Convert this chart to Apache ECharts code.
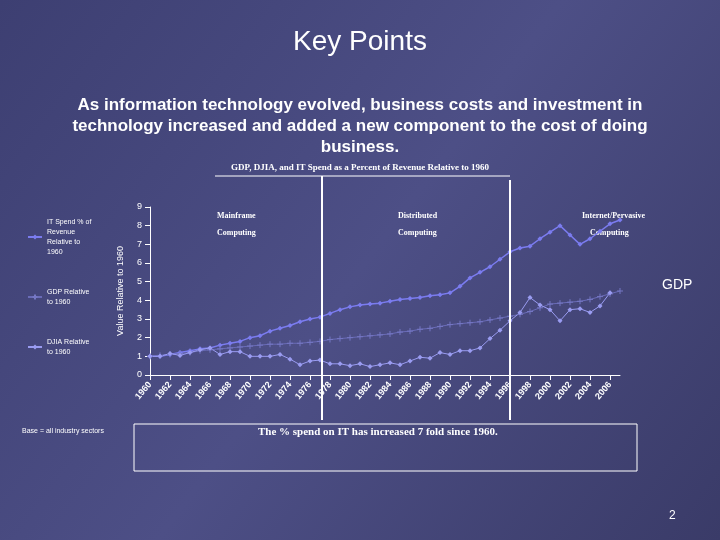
<!DOCTYPE html><html><head><meta charset="utf-8"><script src="https://cdn.jsdelivr.net/npm/echarts@6/dist/echarts.min.js"></script>
<style>body{margin:0}#c{width:720px;height:540px}</style></head><body><div id="c"></div><script>
const years=[];for(let y=1960;y<=2007;y++)years.push(y);
const itSpend=[1.0,1.0,1.1,1.2,1.3,1.4,1.45,1.6,1.7,1.8,2.0,2.1,2.35,2.5,2.65,2.85,3.0,3.1,3.3,3.5,3.65,3.75,3.8,3.85,3.95,4.05,4.1,4.15,4.25,4.3,4.4,4.75,5.2,5.5,5.8,6.2,6.6,6.8,6.9,7.3,7.65,8.0,7.5,7.0,7.3,7.7,8.1,8.3];
const gdp=[1.0,1.05,1.1,1.15,1.2,1.3,1.35,1.4,1.45,1.5,1.55,1.6,1.65,1.65,1.7,1.7,1.75,1.8,1.9,1.95,2.0,2.05,2.1,2.15,2.2,2.3,2.35,2.45,2.5,2.6,2.7,2.75,2.8,2.85,2.95,3.05,3.15,3.25,3.4,3.6,3.8,3.85,3.9,3.95,4.05,4.2,4.35,4.5];
const djia=[1.0,1.0,1.15,1.05,1.2,1.35,1.45,1.1,1.25,1.25,1.0,1.0,1.0,1.1,0.85,0.55,0.75,0.8,0.6,0.6,0.5,0.6,0.45,0.55,0.65,0.55,0.75,0.95,0.9,1.2,1.1,1.3,1.3,1.45,1.95,2.4,2.9,3.35,4.15,3.75,3.5,2.9,3.5,3.55,3.35,3.7,4.4];
const pair=a=>a.map((v,i)=>[years[i],v]);
const c=echarts.init(document.getElementById('c'));
const tx={fill:'#fff',fontFamily:'Liberation Serif',fontSize:8,fontWeight:'bold',lineHeight:17};
c.setOption({
graphic:[
{type:'rect',shape:{x:0,y:0,width:720,height:540},z:-10,style:{fill:new echarts.graphic.LinearGradient(0,0,1,1,[{offset:0,color:'#3d3f72'},{offset:0.5,color:'#4d4f86'},{offset:1,color:'#3a3b68'}])}},
{type:'text',left:'center',top:28,style:{text:'Key Points',fill:'#fff',font:'28px Liberation Sans'}},
{type:'text',x:360,y:95,style:{text:'As information technology evolved, business costs and investment in\ntechnology increased and added a new component to the cost of doing\nbusiness.',fill:'#fff',font:'bold 17px Liberation Sans',align:'center',lineHeight:21}},
{type:'text',left:'center',top:163,style:{text:'GDP, DJIA, and IT Spend as a Percent of Revenue Relative to 1960',fill:'#fff',font:'bold 9px Liberation Serif'}},
{type:'line',shape:{x1:215,y1:176,x2:510,y2:176},style:{stroke:'#fff',lineWidth:1}},
{type:'text',left:217,top:207,style:Object.assign({text:'Mainframe\nComputing'},tx)},
{type:'text',left:398,top:207,style:Object.assign({text:'Distributed\nComputing'},tx)},
{type:'text',left:582,top:207,style:Object.assign({text:'Internet/Pervasive\n    Computing'},tx)},
{type:'text',left:662,top:278,style:{text:'GDP',fill:'#fff',font:'14px Liberation Sans'}},
{type:'text',left:22,top:428,style:{text:'Base = all industry sectors',fill:'#fff',font:'7px Liberation Sans'}},
{type:'rect',shape:{x:134,y:424,width:503,height:47},style:{fill:'none',stroke:'#fff',lineWidth:1}},
{type:'text',left:258,top:427,style:{text:'The % spend on IT has increased 7 fold since 1960.',fill:'#fff',font:'bold 11px Liberation Serif'}},
{type:'text',left:669,top:510,style:{text:'2',fill:'#fff',font:'12px Liberation Sans'}}
],
legend:{orient:'vertical',left:22,top:212,itemWidth:14,itemHeight:6,itemGap:30,textStyle:{color:'#fff',fontSize:7,lineHeight:10,fontFamily:'Liberation Sans'},
data:[{name:'IT Spend % of\nRevenue\nRelative to\n1960'},{name:'GDP Relative\nto 1960'},{name:'DJIA Relative\nto 1960'}]},
grid:{left:150,right:100,top:207,bottom:165},
xAxis:{type:'value',min:1960,max:2007,interval:2,splitLine:{show:false},axisLine:{lineStyle:{color:'#fff'}},axisTick:{show:true,lineStyle:{color:'#fff'}},
axisLabel:{color:'#fff',rotate:50,fontSize:9,fontWeight:'bold',fontFamily:'Liberation Sans',showMaxLabel:false,formatter:v=>String(v)}},
yAxis:{type:'value',min:0,max:9,interval:1,name:'Value Relative to 1960',nameLocation:'middle',nameGap:25,nameTextStyle:{color:'#fff',fontSize:9,fontFamily:'Liberation Sans'},
splitLine:{show:false},axisLine:{show:true,lineStyle:{color:'#fff'}},axisTick:{show:true,lineStyle:{color:'#fff'}},axisLabel:{color:'#fff',fontSize:9,fontFamily:'Liberation Sans'}},
series:[
{name:'IT Spend % of\nRevenue\nRelative to\n1960',type:'line',data:pair(itSpend),symbol:'diamond',symbolSize:5,itemStyle:{color:'#7b7cf0'},lineStyle:{color:'#7b7cf0',width:1.5},
markLine:{silent:true,symbol:'none',label:{show:false},lineStyle:{color:'#fff',width:2,type:'solid'},data:[[{coord:[1977.2,0],y:176},{coord:[1977.2,0],y:420}],[{coord:[1996,0],y:180},{coord:[1996,0],y:420}]]}},
{name:'GDP Relative\nto 1960',type:'line',data:pair(gdp),symbol:'path://M-1,0L1,0M0,-1L0,1',symbolSize:6,itemStyle:{color:'#6a6cb8',borderColor:'#7577c4',borderWidth:1},lineStyle:{color:'#6a6cb8',width:1}},
{name:'DJIA Relative\nto 1960',type:'line',data:pair(djia),symbol:'diamond',symbolSize:5,itemStyle:{color:'#9a9cf2'},lineStyle:{color:'#9a9cf2',width:1}}
]});
</script></body></html>
